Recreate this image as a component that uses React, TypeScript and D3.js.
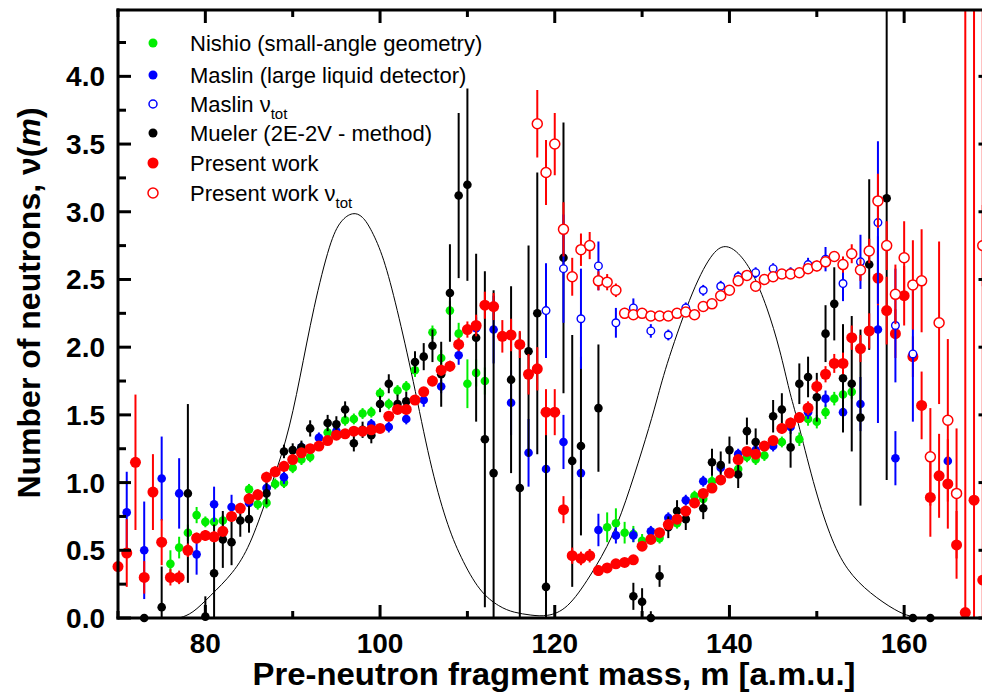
import React from "react";
import * as d3 from "d3";

// [mass, nu, error]
type Pt = [number, number, number];

const nishio: Pt[] = [
  [76, 0.40, 0.10], [77, 0.52, 0.08], [78, 0.63, 0.06], [79, 0.76, 0.06], [80, 0.71, 0.04],
  [81, 0.71, 0.04], [82, 0.72, 0.04], [85, 0.95, 0.04], [86, 0.84, 0.04], [87, 0.85, 0.04],
  [88, 0.99, 0.04], [89, 1.00, 0.04], [90, 1.11, 0.04], [91, 1.17, 0.04], [92, 1.19, 0.04],
  [94, 1.37, 0.04], [96, 1.46, 0.04], [97, 1.47, 0.04], [98, 1.51, 0.04], [99, 1.52, 0.04],
  [100, 1.66, 0.04], [101, 1.58, 0.04], [102, 1.68, 0.04], [103, 1.71, 0.04], [104, 1.83, 0.05],
  [106, 2.11, 0.05], [107, 1.92, 0.06], [108, 2.27, 0.07], [109, 2.10, 0.08], [110, 1.73, 0.18],
  [111, 1.81, 0.10], [112, 1.75, 0.10], [126, 0.67, 0.11], [127, 0.70, 0.11], [128, 0.63, 0.08],
  [129, 0.62, 0.06], [130, 0.57, 0.05], [132, 0.59, 0.04], [134, 0.70, 0.04], [136, 0.90, 0.04],
  [137, 0.88, 0.04], [138, 1.01, 0.04], [141, 1.10, 0.04], [142, 1.19, 0.04], [143, 1.17, 0.04],
  [144, 1.20, 0.04], [146, 1.30, 0.04], [148, 1.32, 0.05], [149, 1.47, 0.05], [150, 1.45, 0.05],
  [151, 1.52, 0.05], [152, 1.62, 0.05], [153, 1.65, 0.05], [154, 1.67, 0.05],
];

const maslin: Pt[] = [
  [71, 0.78, 0.30], [73, 0.50, 0.36], [75, 1.03, 0.31], [77, 0.92, 0.26], [79, 0.47, 0.15],
  [81, 0.84, 0.13], [83, 0.82, 0.09], [85, 0.85, 0.07], [87, 0.96, 0.05], [89, 1.04, 0.05],
  [91, 1.26, 0.04], [93, 1.33, 0.04], [95, 1.38, 0.04], [99, 1.43, 0.04], [101, 1.41, 0.04],
  [103, 1.47, 0.04], [105, 1.61, 0.05], [107, 1.71, 0.05], [109, 1.94, 0.07], [111, 2.14, 0.08],
  [113, 2.13, 0.25], [115, 1.59, 0.24], [117, 1.22, 0.25], [119, 1.10, 0.24], [121, 1.30, 0.20],
  [123, 1.07, 0.19], [125, 0.65, 0.12], [127, 0.61, 0.06], [129, 0.61, 0.05], [131, 0.64, 0.04],
  [133, 0.74, 0.04], [135, 0.87, 0.04], [137, 1.01, 0.04], [139, 1.11, 0.04], [141, 1.21, 0.04],
  [143, 1.24, 0.04], [145, 1.27, 0.04], [147, 1.41, 0.05], [149, 1.52, 0.05], [151, 1.62, 0.06],
  [153, 1.52, 0.10], [155, 1.58, 0.20], [157, 2.13, 0.69], [159, 1.18, 0.20], [165, 1.16, 0.03],
];

const maslinTot: Pt[] = [
  [119, 2.27, 0.35], [121, 2.58, 0.40], [123, 2.21, 0.37], [125, 2.60, 0.18], [127, 2.18, 0.11],
  [129, 2.29, 0.07], [131, 2.12, 0.05], [133, 2.09, 0.04], [135, 2.29, 0.04], [137, 2.42, 0.04],
  [139, 2.45, 0.04], [141, 2.52, 0.04], [143, 2.55, 0.04], [145, 2.58, 0.04], [147, 2.55, 0.04],
  [149, 2.61, 0.05], [151, 2.65, 0.09], [153, 2.47, 0.13], [155, 2.63, 0.20], [157, 2.92, 0.60],
  [159, 2.16, 0.42], [161, 1.95, 0.50],
];

const mueler: Pt[] = [
  [73, 0.00, 0], [75, 0.08, 0.30], [78, 0.92, 0.66], [80, 0.01, 0.15], [81, 0.33, 0.36],
  [82, 0.58, 0.21], [83, 0.56, 0.17], [84, 0.72, 0.12], [85, 0.73, 0.10], [87, 0.92, 0.08],
  [89, 1.23, 0.05], [90, 1.24, 0.05], [91, 1.26, 0.05], [92, 1.40, 0.06], [94, 1.44, 0.06],
  [95, 1.43, 0.06], [96, 1.54, 0.06], [97, 1.29, 0.06], [98, 1.39, 0.06], [99, 1.35, 0.06],
  [100, 1.58, 0.06], [101, 1.73, 0.07], [102, 1.58, 0.07], [103, 1.60, 0.07], [104, 1.89, 0.08],
  [105, 1.93, 0.10], [106, 2.01, 0.12], [107, 1.80, 0.24], [108, 2.40, 0.36], [109, 3.12, 0.61],
  [110, 3.20, 0.71], [111, 2.07, 0.62], [112, 1.32, 1.24], [113, 1.07, 1.35], [115, 1.76, 0.69],
  [116, 0.96, 1.15], [117, 1.97, 0.78], [118, 2.25, 1.04], [119, 0.23, 1.30], [121, 2.66, 1.00],
  [122, 1.16, 0.93], [123, 1.27, 0.66], [125, 1.55, 0.47], [129, 0.16, 0.10], [130, 0.12, 0.10],
  [131, 0.00, 0.05], [132, 0.31, 0.08], [133, 0.67, 0.08], [134, 0.79, 0.08], [135, 0.73, 0.08],
  [137, 0.81, 0.08], [138, 1.15, 0.10], [139, 1.13, 0.10], [140, 1.24, 0.10], [141, 1.06, 0.10],
  [142, 1.38, 0.10], [143, 1.30, 0.10], [145, 1.49, 0.12], [146, 1.54, 0.12], [147, 1.26, 0.15],
  [148, 1.73, 0.15], [149, 1.78, 0.15], [150, 1.63, 0.18], [151, 2.10, 0.21], [152, 2.32, 0.27],
  [153, 1.77, 0.40], [154, 1.73, 0.50], [155, 1.48, 0.65], [156, 2.61, 0.63], [158, 3.10, 2.08],
  [161, 0.00, 0], [163, 0.00, 0],
];

const present: Pt[] = [
  [70, 0.38, 0.32], [71, 0.48, 0.25], [72, 1.15, 0.50], [73, 0.30, 0.12], [74, 0.93, 0.28],
  [75, 0.56, 0.17], [76, 0.30, 0.06], [77, 0.30, 0.05], [78, 0.50, 0.05], [79, 0.59, 0.04],
  [80, 0.61, 0.04], [81, 0.60, 0.04], [82, 0.64, 0.04], [83, 0.75, 0.04], [84, 0.81, 0.04],
  [85, 0.88, 0.04], [86, 0.91, 0.04], [87, 1.04, 0.04], [88, 1.08, 0.04], [89, 1.12, 0.04],
  [90, 1.17, 0.03], [91, 1.22, 0.03], [92, 1.25, 0.03], [93, 1.27, 0.03], [94, 1.31, 0.03],
  [95, 1.35, 0.03], [96, 1.36, 0.03], [97, 1.38, 0.03], [98, 1.38, 0.03], [99, 1.39, 0.03],
  [100, 1.40, 0.03], [101, 1.49, 0.03], [102, 1.54, 0.03], [103, 1.54, 0.03], [104, 1.61, 0.03],
  [105, 1.67, 0.03], [106, 1.75, 0.04], [107, 1.83, 0.04], [108, 1.86, 0.04], [109, 2.02, 0.05],
  [110, 2.13, 0.06], [111, 2.16, 0.08], [112, 2.31, 0.10], [113, 2.30, 0.10], [114, 2.08, 0.12],
  [115, 2.09, 0.12], [116, 2.02, 0.10], [117, 1.80, 0.15], [118, 1.84, 0.16], [119, 1.52, 0.17],
  [120, 1.52, 0.17], [121, 0.80, 0.10], [122, 0.46, 0.06], [123, 0.44, 0.05], [124, 0.46, 0.05],
  [125, 0.35, 0.04], [126, 0.37, 0.03], [127, 0.40, 0.03], [128, 0.41, 0.03], [129, 0.43, 0.03],
  [130, 0.53, 0.03], [131, 0.58, 0.03], [132, 0.63, 0.03], [133, 0.69, 0.03], [134, 0.73, 0.03],
  [135, 0.79, 0.03], [136, 0.85, 0.03], [137, 0.92, 0.03], [138, 0.96, 0.03], [139, 1.02, 0.03],
  [140, 1.07, 0.03], [141, 1.17, 0.03], [142, 1.23, 0.03], [143, 1.21, 0.03], [144, 1.27, 0.03],
  [145, 1.31, 0.03], [146, 1.40, 0.04], [147, 1.44, 0.04], [148, 1.48, 0.04], [149, 1.55, 0.05],
  [150, 1.71, 0.05], [151, 1.80, 0.06], [152, 1.88, 0.07], [153, 1.88, 0.08], [154, 2.07, 0.09],
  [155, 1.99, 0.10], [156, 2.12, 0.13], [157, 2.51, 0.20], [158, 2.27, 0.25], [159, 2.10, 0.18],
  [160, 2.38, 0.22], [161, 1.93, 0.15], [162, 1.57, 0.25], [163, 0.89, 0.29], [164, 1.05, 0.31],
  [165, 0.99, 0.33], [166, 0.54, 0.25], [167, 0.04, 6], [168, 0.87, 6], [169, 0.28, 6],
];

const presentTot: Pt[] = [
  [118, 3.65, 0.25], [119, 3.29, 0.24], [120, 3.50, 0.23], [121, 2.87, 0.20], [122, 2.52, 0.14],
  [123, 2.72, 0.12], [124, 2.75, 0.10], [125, 2.49, 0.07], [126, 2.48, 0.06], [127, 2.42, 0.05],
  [128, 2.25, 0.04], [129, 2.24, 0.03], [130, 2.25, 0.03], [131, 2.23, 0.03], [132, 2.23, 0.03],
  [133, 2.23, 0.03], [134, 2.25, 0.03], [135, 2.26, 0.03], [136, 2.24, 0.03], [137, 2.30, 0.03],
  [138, 2.32, 0.03], [139, 2.38, 0.03], [140, 2.42, 0.03], [141, 2.49, 0.03], [142, 2.53, 0.03],
  [143, 2.45, 0.03], [144, 2.50, 0.03], [145, 2.52, 0.03], [146, 2.54, 0.03], [147, 2.54, 0.03],
  [148, 2.55, 0.03], [149, 2.58, 0.03], [150, 2.60, 0.04], [151, 2.63, 0.04], [152, 2.67, 0.04],
  [153, 2.61, 0.06], [154, 2.69, 0.07], [155, 2.57, 0.08], [156, 2.71, 0.09], [157, 3.08, 0.20],
  [158, 2.75, 0.18], [159, 2.39, 0.22], [160, 2.66, 0.27], [161, 2.46, 0.33], [162, 2.49, 0.38],
  [163, 1.19, 0.36], [164, 2.18, 0.60], [165, 1.46, 0.60], [166, 0.92, 0.48], [169, 2.75, 0.30],
];

// Mass yield curve (scaled into the ν axis units)
const yieldMass = [
  77.0, 78.5, 80.5, 83.2, 85.1, 87.0, 89.3, 90.8, 92.4, 94.3, 95.5, 96.9, 98.0, 99.0, 100.4,
  101.9, 103.8, 105.7, 107.6, 109.2, 111.4, 113.7, 115.3, 117.3, 119.1, 121.4, 124.0, 126.7,
  128.6, 130.5, 131.7, 132.8, 135.9, 138.2, 139.7, 141.2, 142.7, 144.3, 145.8, 146.9,
  147.7, 149.6, 151.5, 153.4, 156.1, 159.1, 160.7, 162.0,
];
const yieldValue = [
  0.0, 0.03, 0.16, 0.33, 0.53, 0.88, 1.30, 1.76, 2.30, 2.79, 2.94, 3.0, 2.97, 2.87, 2.67,
  2.30, 1.76, 1.14, 0.70, 0.45, 0.19, 0.08, 0.04, 0.02, 0.01, 0.06, 0.30, 0.60,
  0.95, 1.34, 1.61, 1.88, 2.45, 2.72, 2.76, 2.69, 2.55, 2.30, 1.98, 1.66,
  1.49, 0.99, 0.60, 0.35, 0.18, 0.05, 0.01, 0.0,
];

const xMajor = [80, 100, 120, 140, 160];
const xMajorLabels = ["80", "100", "120", "140", "160"];
const xMinor = [70, 90, 110, 130, 150, 170];
const yMajor = [0, 0.5, 1, 1.5, 2, 2.5, 3, 3.5, 4];
const yMajorLabels = ["0.0", "0.5", "1.0", "1.5", "2.0", "2.5", "3.0", "3.5", "4.0"];
const yMinor = [0.25, 0.75, 1.25, 1.75, 2.25, 2.75, 3.25, 3.75, 4.25];

const legendLabels = [
  "Nishio (small-angle geometry)",
  "Maslin (large liquid detector)",
  "Maslin ν",
  "Mueler (2E-2V - method)",
  "Present work",
  "Present work ν",
];

const FONT = "'Liberation Sans', Arial, Helvetica, sans-serif";
const GREEN = "#00ee00";
const BLUE = "#0000ff";
const RED = "#ff0000";

const x = d3.scaleLinear().domain([70, 170]).range([118, 991.5]);
const y = d3.scaleLinear().domain([0, 4.49]).range([618, 10]);

type SeriesProps = { data: Pt[]; color: string; r: number; open?: boolean; sw?: number };

function Series({ data, color, r, open, sw = 1.5 }: SeriesProps) {
  return (
    <g>
      <g clipPath="url(#plotClip)">
        {data
          .filter((d) => d[2] > 0)
          .map((d, i) => (
            <line
              key={i}
              x1={x(d[0])}
              x2={x(d[0])}
              y1={y(d[1] - d[2])}
              y2={y(d[1] + d[2])}
              stroke={color}
              strokeWidth={2}
            />
          ))}
      </g>
      {data.map((d, i) =>
        open ? (
          <circle key={i} cx={x(d[0])} cy={y(d[1])} r={r} fill="#fff" stroke={color} strokeWidth={sw} />
        ) : (
          <circle key={i} cx={x(d[0])} cy={y(d[1])} r={r} fill={color} />
        )
      )}
    </g>
  );
}

export default function App() {
  const yieldLine = d3
    .line<number>()
    .x((_, i) => x(yieldMass[i]))
    .y((v) => y(v))
    .curve(d3.curveBasis);

  const [x0, x1] = x.range();
  const [yb, yt] = y.range();

  const legendRows = [
    { label: legendLabels[0], color: GREEN, r: 4.5, open: false, sub: false },
    { label: legendLabels[1], color: BLUE, r: 4.5, open: false, sub: false },
    { label: legendLabels[2], color: BLUE, r: 4, open: true, sub: true },
    { label: legendLabels[3], color: "#000", r: 4.5, open: false, sub: false },
    { label: legendLabels[4], color: RED, r: 5.5, open: false, sub: false },
    { label: legendLabels[5], color: RED, r: 5, open: true, sub: true },
  ];
  const legendY = [43, 75, 104, 133, 163, 193];

  return (
    <svg
      width={982}
      height={696}
      style={{ position: "absolute", left: 0, top: 0, background: "#fff" }}
      fontFamily={FONT}
    >
      <defs>
        <clipPath id="plotClip">
          <rect x={x0} y={yt} width={x1 - x0} height={yb - yt} />
        </clipPath>
      </defs>
      <rect x={0} y={0} width={982} height={696} fill="#fff" />

      {/* yield curve */}
      <path d={yieldLine(yieldValue) || ""} fill="none" stroke="#000" strokeWidth={1} clipPath="url(#plotClip)" />

      <Series data={nishio} color={GREEN} r={4.3} />
      <Series data={maslin} color={BLUE} r={4.3} />
      <Series data={mueler} color="#000" r={4.3} />
      <Series data={present} color={RED} r={5.5} />
      <Series data={maslinTot} color={BLUE} r={3.8} open sw={1.4} />
      <Series data={presentTot} color={RED} r={5} open sw={1.5} />

      {/* frame */}
      <g stroke="#000" strokeWidth={3} fill="none">
        <line x1={x0} x2={x0} y1={yt - 1.5} y2={yb + 1.5} />
        <line x1={x1} x2={x1} y1={yt - 1.5} y2={yb + 1.5} />
        <line x1={x0 - 1.5} x2={x1 + 1.5} y1={yb} y2={yb} />
        <line x1={x0 - 1.5} x2={x1 + 1.5} y1={yt} y2={yt} />
        {xMajor.map((v) => (
          <g key={"xM" + v}>
            <line x1={x(v)} x2={x(v)} y1={yb} y2={yb - 13} />
            <line x1={x(v)} x2={x(v)} y1={yt} y2={yt + 13} />
          </g>
        ))}
        {xMinor.map((v) => (
          <g key={"xm" + v}>
            <line x1={x(v)} x2={x(v)} y1={yb} y2={yb - 7} />
            <line x1={x(v)} x2={x(v)} y1={yt} y2={yt + 7} />
          </g>
        ))}
        {yMajor.map((v) => (
          <g key={"yM" + v}>
            <line x1={x0} x2={x0 + 13} y1={y(v)} y2={y(v)} />
            <line x1={x1} x2={x1 - 13} y1={y(v)} y2={y(v)} />
          </g>
        ))}
        {yMinor.map((v) => (
          <g key={"ym" + v}>
            <line x1={x0} x2={x0 + 8} y1={y(v)} y2={y(v)} />
            <line x1={x1} x2={x1 - 8} y1={y(v)} y2={y(v)} />
          </g>
        ))}
      </g>

      {/* tick labels */}
      <g fontWeight="bold" fontSize={28} fill="#000">
        {xMajor.map((v, i) => (
          <text key={"xl" + v} x={x(v)} y={653} textAnchor="middle">
            {xMajorLabels[i]}
          </text>
        ))}
        {yMajor.map((v, i) => (
          <text key={"yl" + v} x={105} y={y(v) + 10} textAnchor="end">
            {yMajorLabels[i]}
          </text>
        ))}
      </g>

      {/* axis titles */}
      <text x={554} y={685} textAnchor="middle" fontWeight="bold" fontSize={32} textLength={603} lengthAdjust="spacingAndGlyphs">
        Pre-neutron fragment mass, m [a.m.u.]
      </text>
      <text
        transform="translate(40,303) rotate(-90)"
        textAnchor="middle"
        fontWeight="bold"
        fontSize={32}
      >
        Number of neutrons, ν(<tspan fontStyle="italic">m</tspan>)
      </text>

      {/* legend */}
      {legendRows.map((row, i) => (
        <g key={"lg" + i}>
          {row.open ? (
            <circle cx={153} cy={legendY[i]} r={row.r} fill="#fff" stroke={row.color} strokeWidth={1.5} />
          ) : (
            <circle cx={153} cy={legendY[i]} r={row.r} fill={row.color} />
          )}
          <text x={190} y={legendY[i] + 8} fontSize={22} fill="#000">
            {row.label}
            {row.sub ? (
              <tspan fontSize={15} dy={7}>
                tot
              </tspan>
            ) : null}
          </text>
        </g>
      ))}
    </svg>
  );
}
